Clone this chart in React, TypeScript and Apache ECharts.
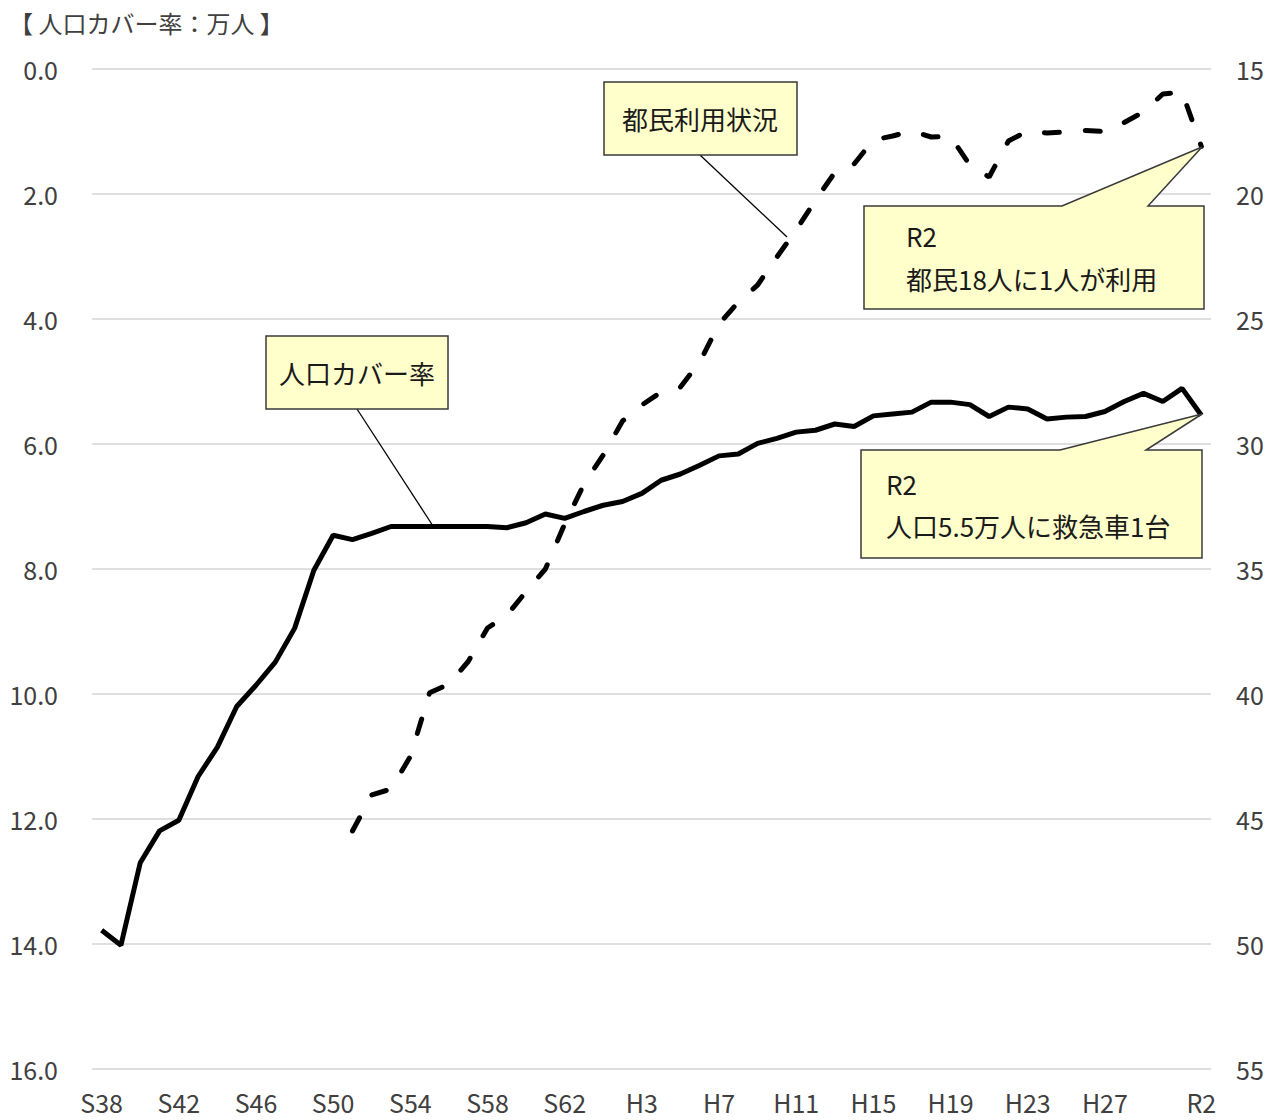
import React, { useEffect, useRef } from "react";
import * as echarts from "echarts";

const FONT = "'Noto Sans CJK JP', 'Noto Sans', sans-serif";

// Fiscal years S38 (1963) .. R2 (2020)
const categories = [
  "S38", "S39", "S40", "S41", "S42", "S43", "S44", "S45", "S46", "S47",
  "S48", "S49", "S50", "S51", "S52", "S53", "S54", "S55", "S56", "S57",
  "S58", "S59", "S60", "S61", "S62", "S63", "H1", "H2", "H3", "H4",
  "H5", "H6", "H7", "H8", "H9", "H10", "H11", "H12", "H13", "H14",
  "H15", "H16", "H17", "H18", "H19", "H20", "H21", "H22", "H23", "H24",
  "H25", "H26", "H27", "H28", "H29", "H30", "R1", "R2",
];

const xTickLabels = [
  "S38", "S42", "S46", "S50", "S54", "S58", "S62",
  "H3", "H7", "H11", "H15", "H19", "H23", "H27", "R2",
];

// 人口カバー率（万人）: left axis
const coverage = [
  13.78, 14.02, 12.7, 12.19, 12.02, 11.32, 10.85, 10.2, 9.86, 9.49,
  8.95, 8.02, 7.46, 7.53, 7.43, 7.32, 7.32, 7.32, 7.32, 7.32,
  7.32, 7.34, 7.26, 7.12, 7.19, 7.08, 6.98, 6.92, 6.79, 6.58,
  6.48, 6.34, 6.19, 6.16, 5.99, 5.91, 5.81, 5.78, 5.68, 5.72,
  5.55, 5.52, 5.49, 5.33, 5.33, 5.37, 5.56, 5.41, 5.44, 5.6,
  5.57, 5.56, 5.48, 5.32, 5.19, 5.32, 5.11, 5.54,
];

// 都民利用状況（都民何人に1人が利用）: right axis
const usage = [
  null, null, null, null, null, null, null, null, null, null,
  null, null, null, 45.48, 44.04, 43.8, 42.5, 39.95, 39.6, 38.7,
  37.36, 36.86, 35.9, 35.0, 33.2, 31.6, 30.44, 29.08, 28.44, 27.92,
  27.72, 26.72, 25.2, 24.32, 23.64, 22.52, 21.44, 20.25, 19.14, 18.8,
  17.84, 17.68, 17.48, 17.72, 17.7, 18.84, 19.32, 17.88, 17.48, 17.56,
  17.52, 17.46, 17.5, 17.14, 16.72, 16.0, 15.92, 18.1,
];

const leftAxisRange = [0, 16, 2];
const rightAxisRange = [15, 55, 5];

const titleText = "【 人口カバー率：万人 】";
const usageLabel = "都民利用状況";
const coverageLabel = "人口カバー率";
const usageNote = ["R2", "都民18人に1人が利用"];
const coverageNote = ["R2", "人口5.5万人に救急車1台"];

const BOX_FILL = "#FFFFCC";
const BOX_STROKE = "#3a3a3a";

export default function App() {
  const ref = useRef<HTMLDivElement>(null);

  useEffect(() => {
    document.body.style.margin = "0";
    const chart = echarts.init(ref.current!, null, { renderer: "svg" });

    const labelText = (x: number, y: number, text: string, align: string = "left") => ({
      type: "text",
      x,
      y,
      z: 20,
      style: {
        text,
        fontSize: 26,
        fontFamily: FONT,
        fill: "#1a1a1a",
        align,
        verticalAlign: "middle",
      },
    });

    chart.setOption({
      animation: false,
      backgroundColor: "#ffffff",
      textStyle: { fontFamily: FONT },
      grid: { left: 92, right: 69, top: 69, bottom: 51, containLabel: false },
      xAxis: {
        type: "category",
        data: categories,
        boundaryGap: true,
        axisLine: { show: false },
        axisTick: { show: false },
        splitLine: { show: false },
        axisLabel: {
          interval: (i: number) => xTickLabels.includes(categories[i]),
          color: "#404040",
          fontSize: 25,
          fontFamily: FONT,
          margin: 20,
        },
      },
      yAxis: [
        {
          type: "value",
          inverse: true,
          min: leftAxisRange[0],
          max: leftAxisRange[1],
          interval: leftAxisRange[2],
          position: "left",
          axisLine: { show: false },
          axisTick: { show: false },
          axisLabel: {
            formatter: (v: number) => v.toFixed(1),
            color: "#404040",
            fontSize: 25,
            fontFamily: FONT,
            margin: 34,
          },
          splitLine: { show: true, lineStyle: { color: "#d4d4d4", width: 1.5 } },
        },
        {
          type: "value",
          inverse: true,
          min: rightAxisRange[0],
          max: rightAxisRange[1],
          interval: rightAxisRange[2],
          position: "right",
          axisLine: { show: false },
          axisTick: { show: false },
          axisLabel: {
            color: "#404040",
            fontSize: 25,
            fontFamily: FONT,
            margin: 25,
          },
          splitLine: { show: false },
        },
      ],
      series: [
        {
          type: "line",
          name: coverageLabel,
          data: coverage,
          yAxisIndex: 0,
          symbol: "none",
          lineStyle: { color: "#000000", width: 5 },
          z: 3,
        },
        {
          type: "line",
          name: usageLabel,
          data: usage,
          yAxisIndex: 1,
          symbol: "none",
          connectNulls: false,
          lineStyle: { color: "#000000", width: 5, type: [15, 26], cap: "round" },
          z: 3,
        },
      ],
      graphic: [
        {
          type: "text",
          x: 9,
          y: 22,
          style: {
            text: titleText,
            fontSize: 24,
            fontFamily: FONT,
            fill: "#404040",
            align: "left",
            verticalAlign: "middle",
          },
        },
        // 都民利用状況 label box
        {
          type: "line",
          z: 15,
          shape: { x1: 700, y1: 155, x2: 787, y2: 237 },
          style: { stroke: "#000", lineWidth: 1.3 },
        },
        {
          type: "rect",
          z: 15,
          shape: { x: 604, y: 82, width: 193, height: 73 },
          style: { fill: BOX_FILL, stroke: BOX_STROKE, lineWidth: 1.5 },
        },
        labelText(700, 118, usageLabel, "center"),
        // 人口カバー率 label box
        {
          type: "line",
          z: 15,
          shape: { x1: 357, y1: 409, x2: 433, y2: 526 },
          style: { stroke: "#000", lineWidth: 1.3 },
        },
        {
          type: "rect",
          z: 15,
          shape: { x: 266, y: 336, width: 182, height: 73 },
          style: { fill: BOX_FILL, stroke: BOX_STROKE, lineWidth: 1.5 },
        },
        labelText(357, 372, coverageLabel, "center"),
        // R2 callout for 都民利用状況
        {
          type: "polygon",
          z: 15,
          shape: {
            points: [
              [864, 206], [1062, 206], [1202, 147], [1148, 206],
              [1204, 206], [1204, 309], [864, 309],
            ],
          },
          style: { fill: BOX_FILL, stroke: BOX_STROKE, lineWidth: 1.5 },
        },
        labelText(906, 235, usageNote[0]),
        labelText(906, 278, usageNote[1]),
        // R2 callout for 人口カバー率
        {
          type: "polygon",
          z: 15,
          shape: {
            points: [
              [861, 450], [1060, 450], [1202, 414], [1146, 450],
              [1202, 450], [1202, 558], [861, 558],
            ],
          },
          style: { fill: BOX_FILL, stroke: BOX_STROKE, lineWidth: 1.5 },
        },
        labelText(886, 483, coverageNote[0]),
        labelText(886, 525, coverageNote[1]),
      ],
    });

    return () => chart.dispose();
  }, []);

  return <div ref={ref} style={{ width: 1280, height: 1120 }} />;
}
